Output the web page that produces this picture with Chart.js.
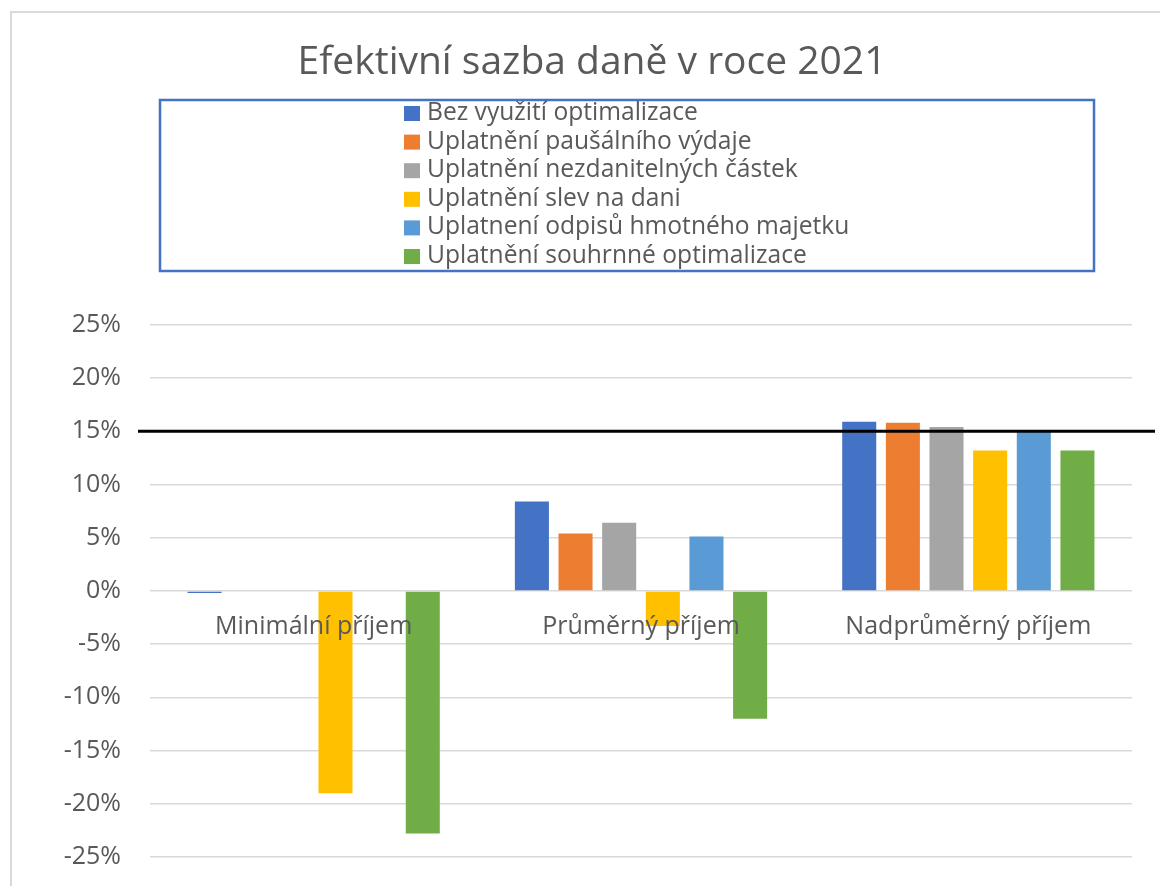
<!DOCTYPE html>
<html>
<head>
<meta charset="utf-8">
<script src="https://cdn.jsdelivr.net/npm/chart.js@4"></script>
<style>
    html, body { margin: 0; padding: 0; background: #fff; overflow: hidden; }
    #wrap { width: 1160px; height: 886px; }
</style>
</head>
<body>
<div id="wrap"><canvas id="effectiveTax"></canvas></div>
<script>
const categories = ['Minimální příjem', 'Průměrný příjem', 'Nadprůměrný příjem']
const seriesNames = [
    'Bez využití optimalizace',
    'Uplatnění paušálního výdaje',
    'Uplatnění nezdanitelných částek',
    'Uplatnění slev na dani',
    'Uplatnení odpisů hmotného majetku',
    'Uplatnění souhrnné optimalizace'
]
const bezOptimalizace = [-0.2, 8.4, 15.9]
const pausalniVydaj = [0, 5.4, 15.8]
const nezdanitelneCastky = [0, 6.4, 15.4]
const slevyNaDani = [-19.0, -3.3, 13.2]
const odpisyMajetku = [0, 5.1, 15.1]
const souhrnnaOptimalizace = [-22.8, -12.0, 13.2]
const referenceRate = 15
const yMin = -25
const yMax = 25
const yStep = 5

const colors = ['#4472c4', '#ed7d31', '#a5a5a5', '#ffc000', '#5b9bd5', '#70ad47']
const values = [bezOptimalizace, pausalniVydaj, nezdanitelneCastky, slevyNaDani, odpisyMajetku, souhrnnaOptimalizace]
const textColor = '#595959'
const fontFamily = '"Open Sans", sans-serif'

// frame around the whole chart, like the Excel chart border
const framePlugin = {
    id: 'frame',
    beforeDraw(chart) {
        const ctx = chart.ctx
        ctx.save()
        ctx.strokeStyle = '#d9d9d9'
        ctx.lineWidth = 2
        ctx.strokeRect(11, 12, 1300, 1000)
        ctx.restore()
    }
}

// one-column legend inside a blue box
const boxLegendPlugin = {
    id: 'boxLegend',
    afterDraw(chart) {
        const ctx = chart.ctx
        ctx.save()
        ctx.strokeStyle = '#4472c4'
        ctx.lineWidth = 2.5
        ctx.strokeRect(160, 100, 934, 171)
        ctx.font = '24.6px ' + fontFamily
        ctx.textBaseline = 'middle'
        ctx.textAlign = 'left'
        chart.data.datasets.forEach((ds, i) => {
            const y = 113 + i * 28.6
            ctx.fillStyle = ds.backgroundColor
            ctx.fillRect(404, y - 7, 16, 15)
            ctx.fillStyle = textColor
            ctx.fillText(ds.label, 427, y)
        })
        ctx.restore()
    }
}

// black line marking the 15 % rate
const rateLinePlugin = {
    id: 'rateLine',
    afterDatasetsDraw(chart) {
        const ctx = chart.ctx
        const y = chart.scales.y.getPixelForValue(referenceRate)
        ctx.save()
        ctx.strokeStyle = '#000'
        ctx.lineWidth = 3
        ctx.beginPath()
        ctx.moveTo(chart.chartArea.left - 12, y)
        ctx.lineTo(chart.chartArea.right + 23, y)
        ctx.stroke()
        ctx.restore()
    }
}

const taxData = {
    labels: categories,
    datasets: seriesNames.map((name, i) => ({
        label: name,
        data: values[i],
        backgroundColor: colors[i],
        barPercentage: 0.78,
        categoryPercentage: 0.8
    }))
}

const taxChart = new Chart('effectiveTax', {
    type: 'bar',
    data: taxData,
    options: {
        responsive: true,
        maintainAspectRatio: false,
        animation: false,
        layout: {
            padding: { left: 52, right: 28, top: 0, bottom: 29 }
        },
        plugins: {
            legend: { display: false },
            tooltip: { enabled: false },
            title: {
                display: true,
                text: 'Efektivní sazba daně v roce 2021',
                color: textColor,
                font: { family: fontFamily, size: 39, weight: 'normal' },
                padding: { top: 39, bottom: 239 }
            }
        },
        scales: {
            x: {
                position: { y: 0 },
                grid: { display: false, drawTicks: false },
                border: { display: false },
                ticks: {
                    z: 1,
                    color: textColor,
                    font: { family: fontFamily, size: 25 },
                    padding: 21
                }
            },
            y: {
                min: yMin,
                max: yMax,
                afterFit: scale => { scale.width = 98 },
                grid: {
                    color: '#d9d9d9',
                    lineWidth: 1.5,
                    drawTicks: true,
                    tickLength: 29,
                    tickColor: 'rgba(0,0,0,0)'
                },
                border: { display: false },
                ticks: {
                    stepSize: yStep,
                    color: textColor,
                    font: { family: fontFamily, size: 25 },
                    padding: 0,
                    callback: v => v + '%'
                }
            }
        }
    },
    plugins: [framePlugin, boxLegendPlugin, rateLinePlugin]
})
</script>
</body>
</html>
